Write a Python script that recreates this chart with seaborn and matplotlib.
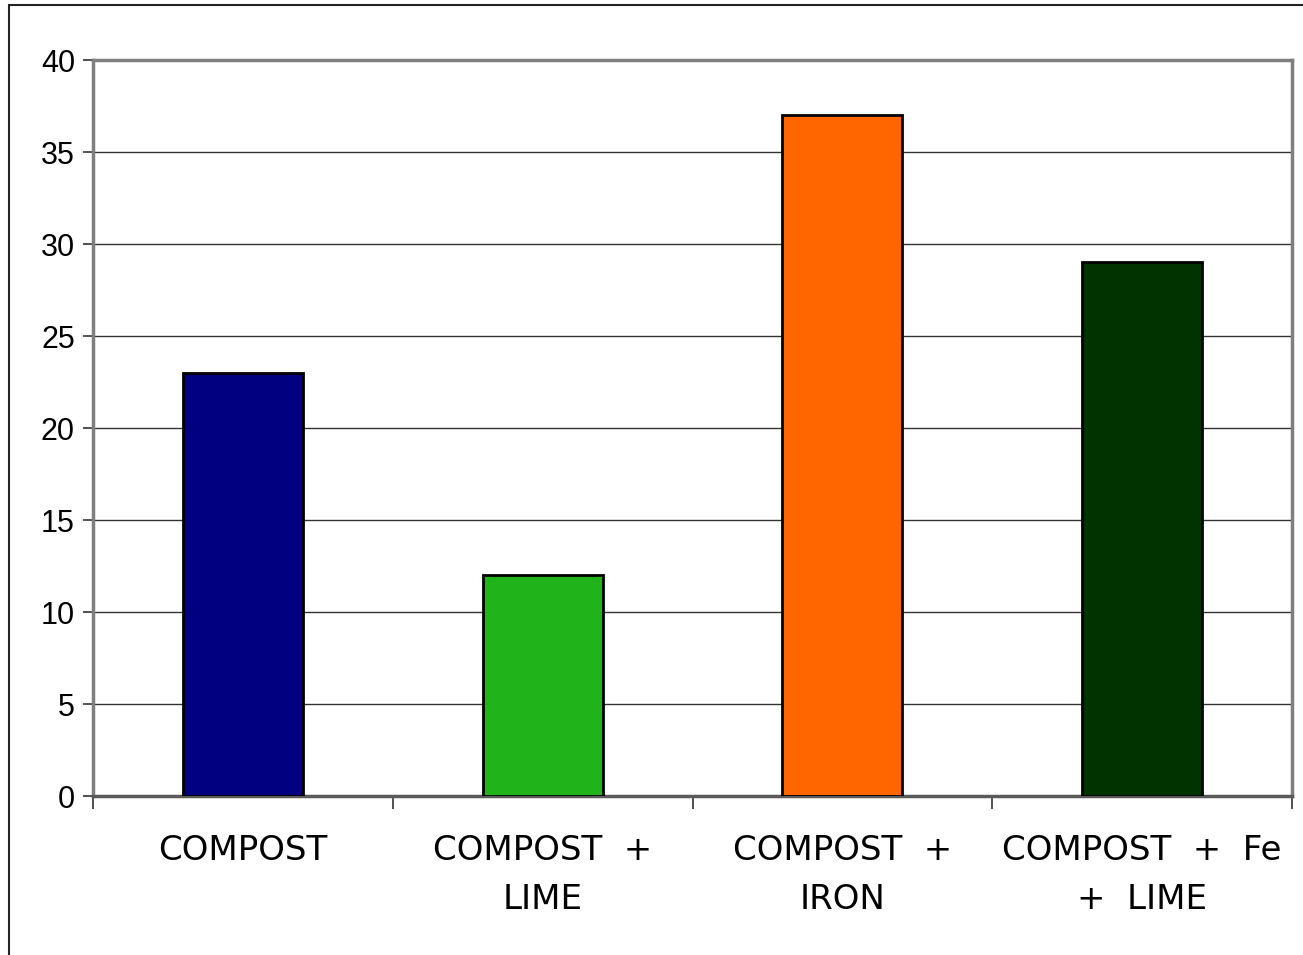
import matplotlib
matplotlib.use("Agg")
import matplotlib.pyplot as plt
from matplotlib.patches import Rectangle
import seaborn as sns
import pandas as pd

# Treatment groups and their measured values
categories = ["COMPOST", "COMPOST + LIME", "COMPOST + IRON", "COMPOST + Fe + LIME"]
tick_labels = ["COMPOST", "COMPOST  +\nLIME", "COMPOST  +\nIRON", "COMPOST  +  Fe\n+  LIME"]
values = [23, 12, 37, 29]
bar_colors = ["#000080", "#21b41a", "#ff6600", "#003300"]

df = pd.DataFrame({"treatment": categories, "value": values})

sns.set_theme(style="white")
plt.rcParams["font.family"] = ["DejaVu Sans"]
plt.rcParams["text.color"] = "black"
plt.rcParams["xtick.color"] = "black"
plt.rcParams["ytick.color"] = "black"

fig = plt.figure(figsize=(13.03, 9.55), dpi=100)
ax = fig.add_axes([93 / 1303, 1 - 796 / 955, (1292 - 93) / 1303, (796 - 60) / 955])

sns.barplot(data=df, x="treatment", y="value", hue="treatment",
            palette=bar_colors, legend=False, width=0.4, saturation=1,
            edgecolor="black", linewidth=2.0, ax=ax, zorder=3)

ax.set_xlim(-0.5, 3.5)
ax.set_ylim(0, 40)
ax.set_yticks(range(0, 41, 5))
ax.yaxis.grid(True, color="#333333", linewidth=1.0, zorder=0)
ax.set_axisbelow(True)

# category labels centred under bars, tick marks on category boundaries
ax.set_xticks(range(len(categories)))
ax.set_xticklabels(tick_labels, fontsize=24.5, linespacing=1.62, color="black")
ax.set_xticks([-0.5, 0.5, 1.5, 2.5, 3.5], minor=True)
ax.tick_params(axis="x", which="major", length=0, pad=27)
ax.tick_params(axis="x", which="minor", length=9, width=1.2, color="#333333",
               direction="out", bottom=True)
ax.tick_params(axis="y", length=7, width=1.2, color="#333333", direction="out",
               left=True, pad=6)
for lbl in ax.get_yticklabels():
    lbl.set_fontfamily(["Liberation Sans", "DejaVu Sans"])
    lbl.set_fontsize(22)
    lbl.set_color("black")

ax.set_xlabel("")
ax.set_ylabel("")

for name, sp in ax.spines.items():
    sp.set_visible(True)
    sp.set_color("#7f7f7f")
    sp.set_linewidth(2.5)
ax.spines["bottom"].set_color("#5a5a5a")

# outer chart frame
fig.patches.append(Rectangle((9 / 1303, -0.05), 1.2, 1 - 5 / 955 + 0.05,
                             transform=fig.transFigure, fill=False,
                             edgecolor="#222222", linewidth=1.5))

fig.savefig("out.png", dpi=100)
